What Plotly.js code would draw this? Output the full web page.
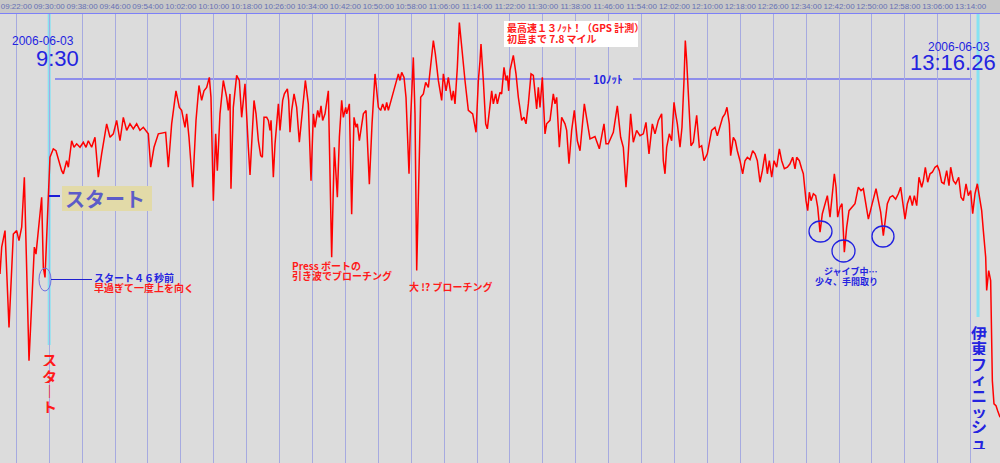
<!DOCTYPE html>
<html><head><meta charset="utf-8">
<script src="https://cdn.plot.ly/plotly-3.0.1.min.js"></script>
<style>html,body{margin:0;padding:0;background:#dcdcdc}#chart{width:1000px;height:463px}</style>
</head><body><div id="chart"></div>
<script>
// minutes after 09:00 on 2006-06-03
const tMin = [
18.04,18.45,19.26,20.23,21.28,22.09,22.66,23.31,23.96,25.09,26.39,26.79,28.17,28.57,28.98,29.79,30.19,31.00,31.65,33.03,
33.44,34.25,34.65,35.46,36.03,36.68,37.49,38.30,38.95,39.51,40.32,41.13,41.94,42.75,43.97,44.78,45.59,46.40,47.21,48.02,
48.83,49.64,50.45,51.26,52.07,52.88,54.10,54.67,55.48,56.53,57.74,58.31,58.96,59.77,60.82,61.63,62.20,63.01,63.42,63.98,
64.88,65.69,66.41,67.06,67.63,68.28,68.93,69.33,69.90,70.47,70.87,71.52,72.33,73.14,73.55,73.95,74.19,74.76,75.57,76.22,
76.79,77.60,78.41,78.82,
79.79,80.28,80.85,81.41,81.82,82.22,82.87,83.28,83.68,83.93,84.49,84.90,85.71,86.11,86.76,87.17,87.90,88.22,88.54,88.95,
89.52,90.16,90.81,91.38,92.27,92.99,93.65,94.22,94.62,95.27,95.67,96.08,96.48,97.05,97.86,98.67,99.32,100.05,100.54,101.10,
101.51,102.08,102.32,102.97,103.53,104.10,104.59,104.91,105.40,106.37,107.02,107.83,108.48,109.21,110.02,110.58,111.07,111.64,112.04,112.45,
113.50,114.47,114.88,115.28,115.69,116.26,116.74,117.47,117.88,118.52,118.93,119.34,119.74,120.31,120.96,121.52,122.17,123.39,123.87,124.60,
125.41,125.82,126.47,127.03,127.84,128.25,128.65,129.22,129.71,130.27,131.08,131.89,132.95,133.76,134.33,134.73,134.97,135.54,136.11,136.51,
137.57,137.97,138.54,138.95,139.59,
139.99,140.56,141.05,141.37,141.70,142.02,142.83,143.48,144.05,144.86,145.42,145.91,146.48,147.13,147.69,148.50,148.91,149.31,149.88,150.53,
150.93,151.74,152.55,152.96,153.37,154.01,154.58,155.39,155.80,156.36,157.01,157.66,158.39,159.04,160.09,160.82,161.47,162.68,163.74,164.87,
165.36,165.92,167.14,168.11,168.92,169.57,170.22,170.62,171.35,172.00,172.81,173.62,174.43,175.08,175.81,176.62,177.27,178.08,178.89,179.29,
179.70,180.11,180.75,181.32,181.89,182.29,182.70,183.35,183.83,184.32,184.64,184.97,185.45,186.02,186.59,187.40,188.05,188.61,189.18,189.99,
191.04,191.85,192.42,193.07,193.72,194.28,194.77,195.34,195.66,196.31,196.80,197.28,197.93,198.58,199.15,199.72,200.37,
201.02,201.59,202.15,202.80,203.37,204.02,204.58,205.07,205.64,206.20,206.85,207.50,208.07,208.72,209.45,210.09,210.74,211.31,211.71,212.36,
212.93,213.33,213.98,214.39,214.79,215.20,215.77,216.33,216.82,217.39,217.95,218.60,219.17,219.82,220.38,220.87,221.28,221.68,222.25,222.73,
223.30,223.87,224.44,225.08,225.89,226.70,227.35,227.92,228.49,229.14,229.95,230.51,231.00,231.57,232.13,232.78,233.19,233.75,234.40,235.05,
235.78,236.43,236.99,237.48,238.05,238.62,239.26,239.83,240.32,240.89,241.45,242.10,242.51,242.99,243.56,244.13,244.69,245.34,245.91,246.39,
246.96,247.53,248.18,248.74,249.15,249.80,250.37,251.10,251.66,252.23,252.88,253.44,254.01,254.50,255.07,255.63,256.12,256.69,257.09,257.66,
257.90,258.39,258.87,259.28,259.68,260.17,260.57,260.98,261.14
];
// boat speed in knots
const knots = [
4.92,5.62,6.05,3.53,5.96,6.05,5.79,6.14,7.44,2.66,5.62,5.44,6.92,5.10,4.83,6.92,7.96,8.18,8.13,7.61,
7.53,7.87,7.70,8.39,8.22,8.31,8.22,8.35,8.22,8.39,8.22,8.48,7.44,8.05,8.83,8.48,8.57,8.92,8.39,9.00,
8.66,8.83,8.70,8.83,8.66,8.74,8.57,7.70,8.22,8.57,8.61,8.61,7.70,8.83,9.69,9.26,9.18,8.74,9.09,8.48,
7.18,8.92,9.83,9.44,9.69,9.78,10.04,9.52,6.83,8.57,7.61,9.09,9.96,9.52,9.18,9.61,7.14,9.26,10.09,9.96,
9.00,9.87,8.22,7.50,
9.44,9.09,8.39,8.00,7.96,9.00,9.00,8.92,8.66,8.92,7.44,8.31,9.35,8.66,9.44,9.61,9.74,9.44,8.61,9.18,
9.61,9.26,8.35,9.00,9.96,9.35,7.35,9.09,8.74,9.18,9.00,9.30,8.92,9.09,9.69,5.36,8.22,6.92,8.48,9.44,
9.00,9.26,9.09,9.35,6.48,9.00,8.74,8.83,8.39,9.09,9.18,7.26,8.83,10.13,9.26,9.18,9.35,9.18,9.39,9.18,
9.61,9.96,10.13,9.96,10.17,10.04,9.52,7.53,9.00,10.56,9.09,5.01,7.09,9.52,9.61,9.91,9.78,11.00,10.65,9.96,
9.44,10.13,9.69,10.04,9.44,9.69,9.35,10.30,11.47,10.82,9.96,9.18,9.09,8.61,9.96,10.47,10.91,9.96,8.83,8.70,
9.69,9.35,9.61,9.35,9.65,
9.61,10.30,9.96,10.09,9.69,10.22,10.61,10.13,9.52,8.92,9.00,8.83,9.35,10.13,10.09,9.22,9.78,9.26,10.04,8.57,
8.83,8.92,9.61,9.35,9.52,8.22,9.00,8.83,8.66,7.79,8.66,9.18,8.39,8.13,9.35,8.83,8.44,8.50,8.18,8.83,
8.31,8.31,8.61,9.30,8.48,8.22,7.18,7.79,9.09,8.35,8.66,8.52,8.57,8.87,8.05,8.83,8.57,8.92,9.09,7.87,
7.53,8.22,8.57,8.39,9.39,9.09,8.83,8.22,8.74,9.96,11.00,10.48,9.52,8.26,8.35,9.05,8.22,8.26,7.87,8.05,
8.66,8.74,8.52,8.74,9.00,9.09,9.26,8.83,8.00,8.48,8.39,8.13,7.87,7.53,7.87,7.96,7.90,
8.13,8.05,7.87,7.31,7.61,8.05,7.53,7.87,7.44,7.87,7.70,8.18,7.87,7.66,7.70,7.79,7.96,7.66,7.96,7.87,
7.66,7.53,6.83,6.57,7.05,6.83,7.01,6.96,6.66,6.01,6.49,6.75,6.96,6.40,6.92,7.53,7.18,6.40,6.66,6.75,
5.49,6.14,6.57,6.66,6.75,7.18,7.09,7.14,6.75,6.35,6.70,6.92,7.14,6.83,6.53,5.92,6.31,6.75,6.92,6.96,
6.87,7.01,7.18,6.83,6.35,6.75,6.96,6.70,6.96,6.70,7.44,7.18,7.35,7.70,7.31,7.53,7.57,7.70,7.74,7.61,
7.31,7.27,7.61,7.22,7.70,7.35,7.27,7.44,6.92,6.83,7.27,6.96,7.09,6.49,7.01,7.27,6.92,6.57,6.05,5.36,
4.49,5.01,4.75,2.14,1.54,1.49,1.36,1.19,1.19
];
const tickStartMin = 22;      // 09:22:00
const tickStepMin = 8;
const startMin = 30;          // 09:30 start
const finishMin = 255.8;      // Ito finish
const viewMin = [18.04, 261.14];
const refKnots = 10;

const base = Date.UTC(2006,5,3,9,0,0);
function toDate(m){ return new Date(base + Math.round(m*60000)).toISOString().replace('T',' ').replace('Z',''); }

const JP = 'Noto Sans CJK JP, sans-serif';
const SANS = 'Liberation Sans, Arial, sans-serif';
const BLUE = '#2424e0';
const RED = '#ff1a1a';

const trace = {
  x: tMin.map(toDate), y: knots, type:'scatter', mode:'lines',
  line:{color:'#ff0000', width:1.5}, hoverinfo:'skip'
};

function ann(text, x, y, o){
  return Object.assign({text:text, x:x, y:y, xref:'paper', yref:'paper', showarrow:false,
    xanchor:'center', yanchor:'middle', borderpad:0, font:{family:JP, size:10, color:BLUE, weight:'bold'}}, o||{});
}
const annotations = [
  ann('2006-06-03', 0.043, 0.940, {font:{family:SANS,size:12,color:BLUE}}),
  ann('9:30', 0.0575, 0.902, {font:{family:SANS,size:22,color:BLUE}}),
  ann('2006-06-03', 0.9585, 0.9276, {font:{family:SANS,size:12,color:BLUE}}),
  ann('13:16.26', 0.9525, 0.8909, {font:{family:SANS,size:22,color:BLUE}}),
  ann('最高速１３ﾉｯﾄ！（GPS 計測）', 0.506, 0.970, {xanchor:'left', height:12, font:{family:JP,size:10,color:RED,weight:'bold'}}),
  ann('初島まで 7.8 マイル', 0.506, 0.9465, {xanchor:'left', height:12, font:{family:JP,size:10,color:RED,weight:'bold'}}),
  {text:'10ﾉｯﾄ', x:0.607, y:refKnots, xref:'paper', yref:'y', showarrow:false, xanchor:'center', yanchor:'middle',
    font:{family:JP,size:11,color:BLUE,weight:'bold'}},
  ann('スタート', 0.105, 0.5902, {font:{family:JP,size:20,color:'#5c5cc8',weight:'bold'}}),
  ann('スタート４６秒前', 0.093, 0.4131, {xanchor:'left', height:11}),
  ann('早過ぎて一度上を向く', 0.093, 0.3898, {xanchor:'left', height:11, font:{family:JP,size:10,color:RED,weight:'bold'}}),
  ann('Press ボートの', 0.291, 0.4399, {xanchor:'left', height:11, font:{family:JP,size:10,color:RED,weight:'bold'}}),
  ann('引き波でブローチング', 0.291, 0.4165, {xanchor:'left', height:11, font:{family:JP,size:10,color:RED,weight:'bold'}}),
  ann('大 !? ブローチング', 0.408, 0.392, {xanchor:'left', font:{family:JP,size:10,color:RED,weight:'bold'}}),
  ann('ジャイブ中…', 0.851, 0.4287, {height:10, font:{family:JP,size:9,color:BLUE,weight:'bold'}}),
  ann('少々、手間取り', 0.846, 0.406, {height:10, font:{family:JP,size:9,color:BLUE,weight:'bold'}})
];
const startChars = ['ス','タ','｜','ト'];
const startY = [359, 375.5, 391, 406];
startChars.forEach((c,i)=>annotations.push(ann(c, 0.0492, (463-startY[i])/449, {height:14, font:{family:JP,size:15,color:RED,weight:'bold'}})));
const finChars = ['伊','東','フ','ィ','ニ','ッ','シ','ュ'];
finChars.forEach((c,i)=>annotations.push(ann(c, 0.9785, (463-(332+i*15.65))/449, {height:15, font:{family:JP,size:16,color:BLUE,weight:'bold'}})));

function pline(x0,x1,y0,y1,color,width,xref,yref,layer){
  return {type:'line', x0:x0, x1:x1, y0:y0, y1:y1, xref:xref||'paper', yref:yref||'paper', line:{color:color,width:width}, layer:layer||'above'};
}
function circ(x0,x1,y0,y1,color,width){
  return {type:'circle', x0:x0, x1:x1, y0:y0, y1:y1, xref:'paper', yref:'paper', line:{color:color,width:width}, fillcolor:'rgba(0,0,0,0)'};
}
const shapes = [
  pline(toDate(startMin), toDate(startMin), 0.2628, 1, '#86e2f2', 3, 'x', 'paper', 'between'),
  pline(toDate(finishMin), toDate(finishMin), 0.3252, 1, '#86e2f2', 3, 'x', 'paper', 'between'),
  pline(0.055, 0.590, refKnots, refKnots, '#7474f0', 1.5, 'paper', 'y', 'between'),
  pline(0.633, 0.972, refKnots, refKnots, '#7474f0', 1.5, 'paper', 'y', 'between'),
  {type:'rect', xref:'paper', yref:'paper', x0:0.062, x1:0.152, y0:0.5612, y1:0.6169, fillcolor:'#e2daa8', line:{width:0}},
  pline(0.049, 0.060, 0.5947, 0.5947, '#1c1cd8', 2),
  circ(0.039, 0.051, 0.3831, 0.4343, '#7070e0', 1),
  pline(0.051, 0.092, 0.4087, 0.4087, '#2020d0', 1.2),
  {type:'rect', xref:'paper', yref:'paper', x0:0.504, x1:0.638, y0:0.9265, y1:0.9844, fillcolor:'#ffffff', line:{width:0}},
  circ(0.809, 0.832, 0.4922, 0.539, '#2020e0', 1.3),
  circ(0.832, 0.855, 0.4477, 0.4967, '#2020e0', 1.3),
  circ(0.872, 0.894, 0.4811, 0.5278, '#2020e0', 1.3)
];

const layout = {
  width:1000, height:463,
  margin:{l:0, r:0, t:14, b:0, pad:0},
  paper_bgcolor:'#c8c8c8', plot_bgcolor:'#dcdcdc',
  showlegend:false,
  xaxis:{type:'date', side:'top', range:[toDate(viewMin[0]), toDate(viewMin[1])],
    tick0:toDate(tickStartMin), dtick:tickStepMin*60000, tickformat:'%H:%M:%S', tickangle:0,
    tickfont:{family:SANS, size:8, color:'#6670b4'}, ticks:'', ticklen:0, showline:true, linecolor:'#7c80f8', linewidth:1.5,
    showgrid:true, gridcolor:'#a6aae0', gridwidth:1, zeroline:false, automargin:false, fixedrange:true},
  yaxis:{range:[0, 11.69], showgrid:false, showticklabels:false, zeroline:false, ticks:'', showline:false, automargin:false, fixedrange:true},
  annotations:annotations, shapes:shapes, hovermode:false
};
Plotly.newPlot('chart', [trace], layout, {staticPlot:true, displayModeBar:false});
</script></body></html>
